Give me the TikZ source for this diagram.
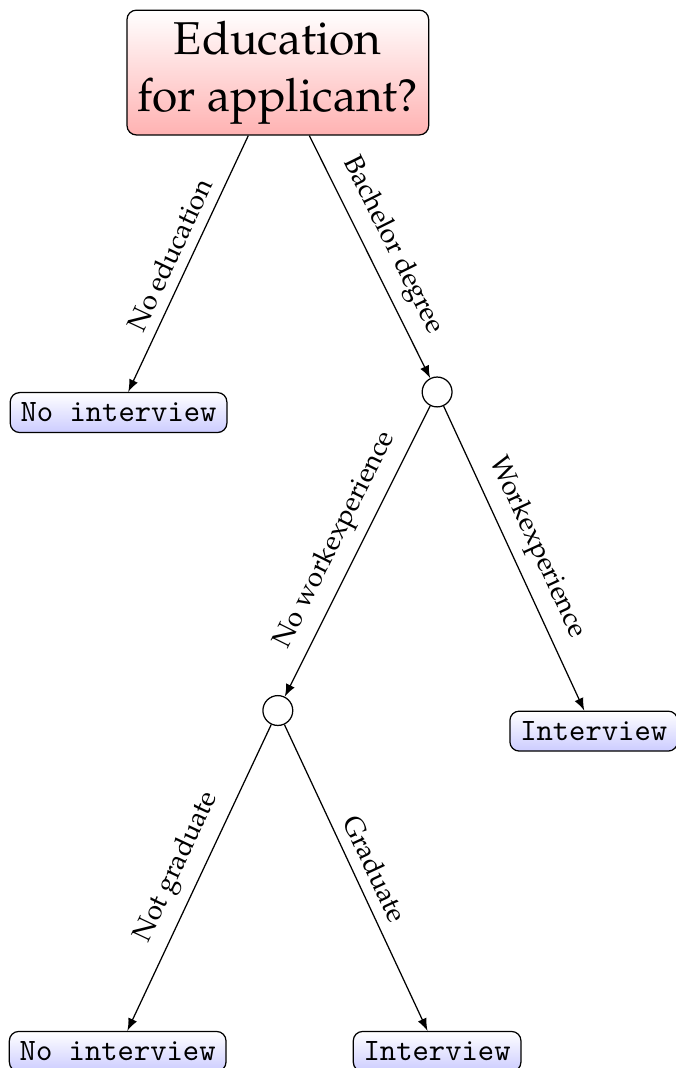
\documentclass[tikz,border=0pt]{standalone}
\usepackage{tikz}
\usetikzlibrary{arrows.meta, positioning, shapes.geometric}
\definecolor{rootRed}{RGB}{255, 178, 178}
\definecolor{leafBlue}{RGB}{204, 204, 255}
\newcommand{\palfont}{\fontencoding{OT1}\fontfamily{ppl}\selectfont}

\begin{document}
\begin{tikzpicture}[
    question/.style={rectangle, draw, rounded corners=3pt, top color=white, bottom color=rootRed, font=\fontsize{14.8}{18.5}\palfont, align=center},
    decision/.style={circle, draw, minimum size=9.6pt, inner sep=0pt},
    leaf/.style={rectangle, draw, rounded corners=3pt, top color=white, bottom color=leafBlue, font=\ttfamily, anchor=north},
    link/.style={-latex, thin},
    choice/.style={above, sloped, midway, font=\fontsize{8.8}{10.5}\palfont}
]
    % Page frame (fixes the margins)
    \useasboundingbox (0,0) rectangle (7.63,-12.07);

    % Root question
    \node[question] (root) at (3.14,-0.82) {Education\\for applicant?};

    % Level 1
    \node[leaf] (noint1) at (1.34,-4.43) {No interview};
    \node[decision] (bachelor) at (4.94,-4.43) {};

    % Level 2
    \node[decision] (nowork) at (3.14,-8.03) {};
    \node[leaf] (int1) at (6.71,-8.03) {Interview};

    % Level 3
    \node[leaf] (noint2) at (1.33,-11.65) {No interview};
    \node[leaf] (int2) at (4.94,-11.65) {Interview};

    % Branches
    \draw[link] (root) -- node[choice] {No education} (noint1);
    \draw[link] (root) -- node[choice] {Bachelor degree} (bachelor);
    \draw[link] (bachelor) -- node[choice] {No workexperience} (nowork);
    \draw[link] (bachelor) -- node[choice] {Workexperience} (int1);
    \draw[link] (nowork) -- node[choice] {Not graduate} (noint2);
    \draw[link] (nowork) -- node[choice] {Graduate} (int2);
\end{tikzpicture}
\end{document}
